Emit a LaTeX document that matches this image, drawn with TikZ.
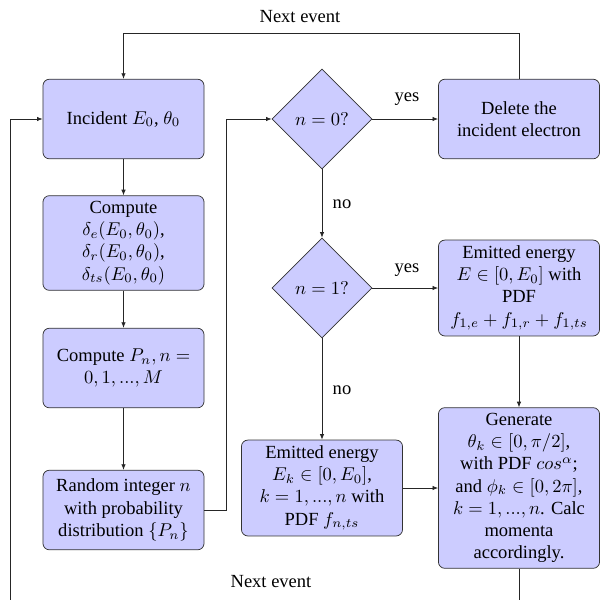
\documentclass[tikz,border=0pt]{standalone}
\usepackage[no-math]{fontspec}
\setmainfont{Liberation Serif}
\usetikzlibrary{shapes.geometric,arrows.meta}
\begin{document}
\begin{tikzpicture}[x=0.54pt,y=-0.54pt,
  block/.style={rectangle,draw=black!80,fill=blue!20,rounded corners=3.5pt,align=center,
    minimum width=87pt,minimum height=43pt,inner sep=3pt},
  decision/.style={diamond,draw=black!80,fill=blue!20,minimum width=54pt,minimum height=54pt,
    inner sep=0pt,aspect=1},
  conn/.style={draw=black!85,-{Latex[length=3pt,width=2.4pt]}},
  plain/.style={draw=black!85}]
\useasboundingbox (0,0) rectangle (600,600);
% nodes
\node[block] (inc) at (123.5,119) {Incident $E_0$, $\theta_0$};
\node[block] (comp) at (123.5,243) {Compute\\ $\delta_e(E_0,\theta_0)$,\\ $\delta_r(E_0,\theta_0)$,\\ $\delta_{ts}(E_0,\theta_0)$};
\node[block] (pn) at (123.5,368) {Compute $P_n, n=$\\ $0,1,...,M$};
\node[block] (rnd) at (123.5,510) {Random integer $n$\\ with probability\\ distribution $\{P_n\}$};
\node[decision] (d0) at (322,119) {$n=0?$};
\node[block] (del) at (519,119) {Delete the\\ incident electron};
\node[decision] (d1) at (322,288) {$n=1?$};
\node[block] (em1) at (519,288) {Emitted energy\\ $E\in[0,E_0]$ with\\ PDF\\ $f_{1,e}+f_{1,r}+f_{1,ts}$};
\node[block] (em2) at (322,488) {Emitted energy\\ $E_k\in[0,E_0]$,\\ $k=1,...,n$ with\\ PDF $f_{n,ts}$};
\node[block] (gen) at (519,488) {Generate\\ $\theta_k\in[0,\pi/2]$,\\ with PDF $cos^{\alpha}$;\\ and $\phi_k\in[0,2\pi]$,\\ $k=1,...,n$. Calc\\ momenta\\ accordingly.};
% labels
\node (lnexttop) at (300,17) {Next event};
\node (lnextbot) at (271,582) {Next event};
\node (lyes0) at (407,99) {yes};
\node (lno0) at (342,204) {no};
\node (lyes1) at (407,270) {yes};
\node (lno1) at (342,390) {no};
\coordinate (bl) at (10,608);
% connectors
\draw[conn] (inc) -- (comp);
\draw[conn] (comp) -- (pn);
\draw[conn] (pn) -- (rnd);
\draw[conn] (rnd.east) -- ++(22,0) |- (d0.west);
\draw[conn] (d0.east) -- (del.west);
\draw[conn] (del.north) -- ++(0,-45) -| (inc.north);
\draw[conn] (d0.south) -- (d1.north);
\draw[conn] (d1.east) -- (em1.west);
\draw[conn] (d1.south) -- (em2.north);
\draw[conn] (em1.south) -- (gen.north);
\draw[conn] (em2.east) -- (gen.west);
\draw[conn] (gen.south) |- (bl) |- (inc.west);
\end{tikzpicture}
\end{document}
